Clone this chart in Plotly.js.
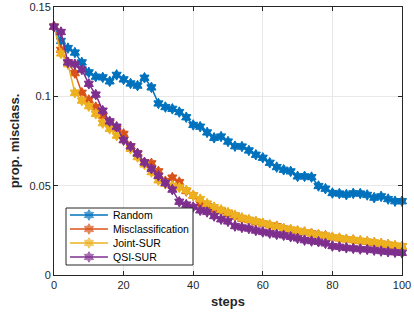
<!DOCTYPE html>
<html>
<head>
<meta charset="utf-8">
<script src="https://cdn.plot.ly/plotly-3.0.1.min.js"></script>
<style>html,body{margin:0;padding:0;background:#fff;}#chart{width:414px;height:317px;}</style>
</head>
<body>
<div id="chart"></div>
<script>
var steps = [0,2,4,6,8,10,12,14,16,18,20,22,24,26,28,30,32,34,36,38,40,42,44,46,48,50,52,54,56,58,60,62,64,66,68,70,72,74,76,78,80,82,84,86,88,90,92,94,96,98,100];
var randomVals = [0.139,0.131,0.127,0.1245,0.119,0.1134,0.111,0.1106,0.1084,0.112,0.1095,0.1072,0.106,0.1104,0.105,0.096,0.094,0.093,0.0912,0.0883,0.084,0.083,0.0798,0.0768,0.0775,0.0747,0.0721,0.0719,0.0697,0.0673,0.0656,0.0628,0.0604,0.0589,0.058,0.0552,0.0552,0.0548,0.0498,0.0483,0.0459,0.0456,0.045,0.0457,0.0456,0.0448,0.0433,0.044,0.0425,0.0413,0.0413];
var misclassVals = [0.139,0.126,0.119,0.113,0.102,0.098,0.094,0.089,0.085,0.082,0.079,0.072,0.068,0.063,0.0625,0.058,0.0525,0.0545,0.052,0.047,0.0445,0.040,0.0385,0.0366,0.0359,0.0344,0.0329,0.0316,0.0307,0.0297,0.0288,0.0279,0.0273,0.026,0.0252,0.0245,0.024,0.0233,0.0225,0.022,0.021,0.0205,0.020,0.0196,0.019,0.0186,0.018,0.0175,0.017,0.0163,0.016];
var jointVals = [0.139,0.124,0.118,0.102,0.0976,0.0945,0.0902,0.085,0.0818,0.078,0.0755,0.0706,0.066,0.0619,0.0576,0.053,0.051,0.050,0.049,0.0474,0.0446,0.0425,0.040,0.038,0.0365,0.035,0.0335,0.032,0.031,0.030,0.029,0.028,0.027,0.026,0.0255,0.0248,0.024,0.0232,0.0225,0.0218,0.0212,0.0207,0.020,0.0195,0.0192,0.0187,0.0182,0.0176,0.017,0.0165,0.016];
var qsiVals = [0.139,0.136,0.119,0.118,0.115,0.107,0.101,0.092,0.086,0.083,0.0755,0.072,0.068,0.063,0.0595,0.0555,0.0515,0.0478,0.041,0.0394,0.0381,0.0362,0.0353,0.033,0.0312,0.030,0.0274,0.0266,0.026,0.0249,0.0241,0.0234,0.0227,0.0222,0.0214,0.0205,0.0195,0.019,0.0186,0.0177,0.0162,0.0158,0.0152,0.0149,0.0145,0.0143,0.0139,0.0134,0.013,0.0127,0.0124];
var seriesNames = ["Random","Misclassification","Joint-SUR","QSI-SUR"];
var seriesColors = ["#0072BD","#D95319","#EDB120","#7E2F8E"];
var seriesVals = [randomVals, misclassVals, jointVals, qsiVals];
var xTicks = [0,20,40,60,80,100];
var yTicks = [0,0.05,0.1,0.15];
var yTickText = ['0','0.05','0.1','0.15'];

var fontFam = 'Liberation Sans, Arial, sans-serif';
var markerSize = 8;

var traces = seriesVals.map(function(v, i){
  return {
    x: steps, y: v, type: 'scatter', mode: 'lines+markers', name: seriesNames[i],
    line: {color: seriesColors[i], width: 1.5},
    marker: {symbol: 'hexagram', size: markerSize, color: seriesColors[i], line: {width: 1, color: seriesColors[i]}},
    cliponaxis: false, showlegend: false
  };
});

// Legend box (MATLAB-style), drawn on an overlay axis spanning the plot area [0,1]x[0,1]
var legBox = {x0: 0.0345, x1: 0.3994, y0: 0.0373, y1: 0.25};
var legRowTop = 0.2239, legRowStep = 0.0522;
var legLine = {x0: 0.046, x1: 0.155};
var legTextX = 0.163;

traces.push({
  x: [legBox.x0, legBox.x1, legBox.x1, legBox.x0, legBox.x0],
  y: [legBox.y0, legBox.y0, legBox.y1, legBox.y1, legBox.y0],
  xaxis: 'x2', yaxis: 'y2', type: 'scatter', mode: 'lines', fill: 'toself',
  fillcolor: '#ffffff', line: {color: '#262626', width: 1}, showlegend: false, hoverinfo: 'skip'
});
var annotations = [];
seriesNames.forEach(function(nm, i){
  var yy = legRowTop - i * legRowStep;
  var xm = (legLine.x0 + legLine.x1) / 2;
  traces.push({
    x: [legLine.x0, xm, legLine.x1], y: [yy, yy, yy],
    xaxis: 'x2', yaxis: 'y2', type: 'scatter', mode: 'lines+markers',
    line: {color: seriesColors[i], width: 1.5},
    marker: {symbol: 'hexagram', size: [0, markerSize, 0], color: seriesColors[i], line: {width: [0, 1, 0], color: seriesColors[i]}},
    showlegend: false, hoverinfo: 'skip'
  });
  annotations.push({
    xref: 'paper', yref: 'paper', x: legTextX, y: yy, xanchor: 'left', yanchor: 'middle',
    text: nm, showarrow: false, font: {family: fontFam, size: 10.5, color: '#000'}
  });
});

var axisCommon = {
  showline: true, linecolor: '#262626', linewidth: 1, mirror: 'ticks',
  ticks: 'inside', ticklen: 4, tickcolor: '#262626',
  showgrid: true, gridcolor: '#e8e8e8', gridwidth: 1, zeroline: false,
  tickfont: {family: fontFam, size: 11, color: '#262626'}
};

var layout = {
  width: 414, height: 317,
  margin: {l: 54, r: 12, t: 7, b: 42},
  paper_bgcolor: '#fff', plot_bgcolor: '#fff',
  showlegend: false,
  xaxis: Object.assign({}, axisCommon, {
    range: [0, 100], tickvals: xTicks, ticktext: xTicks.map(String),
    title: {text: 'steps', font: {family: fontFam, size: 13, color: '#262626', weight: 'bold'}, standoff: 6}
  }),
  yaxis: Object.assign({}, axisCommon, {
    range: [0, 0.1500001], tickvals: yTicks, ticktext: yTickText,
    title: {text: 'prop. misclass.', font: {family: fontFam, size: 13, color: '#262626', weight: 'bold'}, standoff: 6}
  }),
  xaxis2: {overlaying: 'x', range: [0, 1], visible: false, fixedrange: true},
  yaxis2: {overlaying: 'y', range: [0, 1], visible: false, fixedrange: true},
  annotations: annotations
};

Plotly.newPlot('chart', traces, layout, {displayModeBar: false, staticPlot: true});
</script>
</body>
</html>
